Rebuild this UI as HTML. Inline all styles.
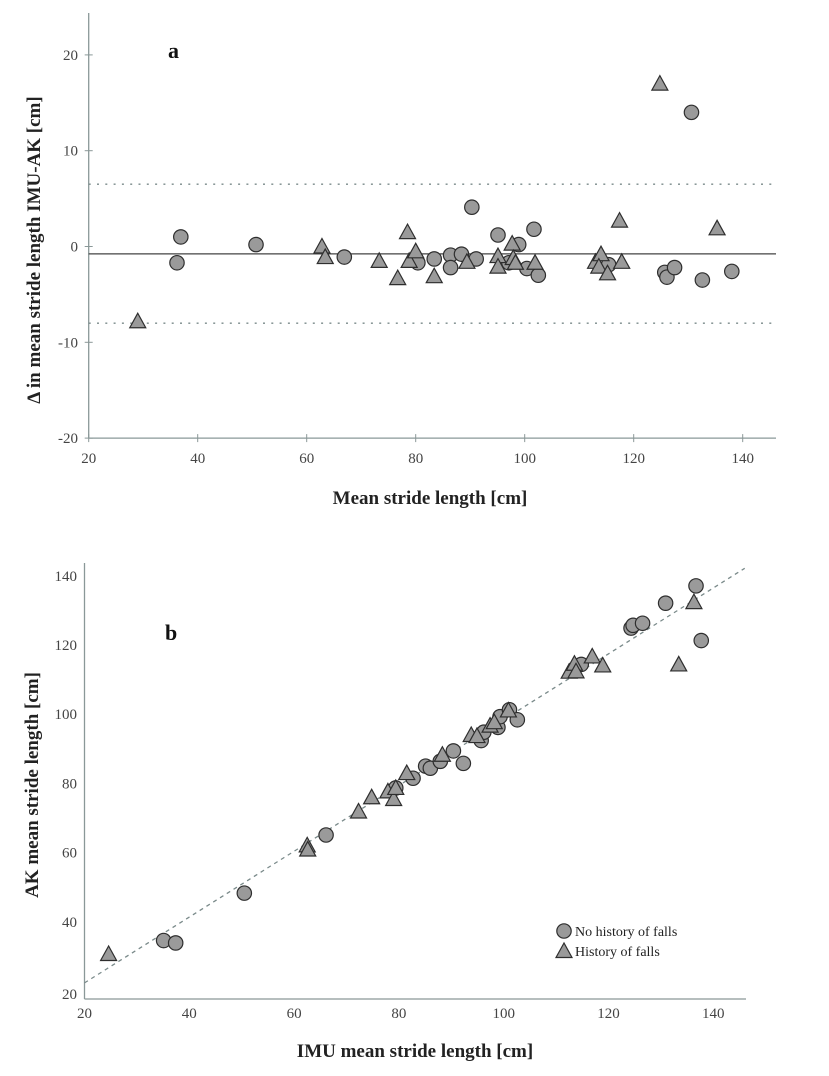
<!DOCTYPE html>
<html><head><meta charset="utf-8"><style>
html,body{margin:0;padding:0;background:#fff;}
svg{display:block;}
text{font-family:"Liberation Serif",serif;}
</style></head>
<body>
<svg id="chart" width="829" height="1076" viewBox="0 0 829 1076" xmlns="http://www.w3.org/2000/svg"></svg>
<script>
// ---- Panel a (Bland-Altman) data ----
const aXTicks = [20, 40, 60, 80, 100, 120, 140];
const aYTicks = [20, 10, 0, -10, -20];
const aCircleMean = [36.2,36.9,50.7,66.9,80.4,83.4,86.4,86.4,88.4,90.3,91.1,95.1,97.1,98.9,100.4,101.7,102.5,115.4,125.7,126.1,127.5,130.6,132.6,138.0];
const aCircleDiff = [-1.7,1.0,0.2,-1.1,-1.7,-1.3,-0.9,-2.2,-0.8,4.1,-1.3,1.2,-1.7,0.2,-2.3,1.8,-3.0,-1.9,-2.7,-3.2,-2.2,14.0,-3.5,-2.6];
const aTriMean = [29.0,62.8,63.4,73.3,76.7,78.5,78.8,80.0,83.4,89.4,95.1,95.1,97.7,97.9,98.3,101.9,113.0,114.0,113.6,115.2,117.4,117.8,124.8,135.3];
const aTriDiff = [-7.8,0.0,-1.1,-1.5,-3.3,1.5,-1.5,-0.5,-3.1,-1.6,-1.0,-2.1,0.3,-1.2,-1.7,-1.7,-1.6,-0.8,-2.1,-2.8,2.7,-1.6,17.0,1.9];
const aMeanDiff = -0.77;
const aUpperLoA = 6.5;
const aLowerLoA = -8.0;

// ---- Panel b (scatter) data ----
const bXTicks = [20, 40, 60, 80, 100, 120, 140];
const bYTicks = [20, 40, 60, 80, 100, 120, 140];
const bCircleIMU = [35.1,37.4,50.5,66.1,79.4,82.7,85.1,86.0,87.9,90.4,92.3,95.7,96.2,98.9,99.3,101.1,102.6,114.8,124.3,124.7,126.5,130.9,136.7,137.7];
const bCircleAK = [36.9,36.2,50.6,67.4,81.0,83.8,87.3,86.7,88.7,91.7,88.1,94.7,97.1,98.5,101.6,103.6,100.7,116.7,127.2,128.0,128.6,134.4,139.4,123.6];
const bTriIMU = [24.6,62.5,62.6,72.3,74.8,77.9,79.0,79.4,81.5,88.3,93.8,94.9,97.4,98.2,100.9,112.5,113.5,113.8,116.9,118.9,133.4,136.3];
const bTriAK = [33.0,64.4,63.2,74.2,78.3,80.0,77.8,81.0,85.3,90.6,96.3,96.0,99.0,100.0,103.4,114.6,116.9,114.7,119.0,116.4,116.7,134.7];
const bFitSlope = 0.951;
const bFitIntercept = 5.64;

const NS = "http://www.w3.org/2000/svg";
const svg = document.getElementById('chart');
function mk(tag, attrs, parent){
  const e = document.createElementNS(NS, tag);
  for (const k in attrs) e.setAttribute(k, attrs[k]);
  (parent||svg).appendChild(e);
  return e;
}
const ax = v => 88.7 + (v - 20) * 5.45;
const ay = v => 246.5 - v * 9.58;
const bx = v => 84.5 + (v - 20) * 5.24;
const by = v => 999 - (v - 20) * 3.46;

const AXC = "#8a9898";
function circle(cx, cy, g){
  const c = mk('circle', {cx:cx, cy:cy, r:7.2, fill:'#9a9a9a', stroke:'#2e2e2e', 'stroke-width':1.2}, g);
  
  
  return c;
}
function tri(cx, cy, g){
  const p = mk('polygon', {points:`${cx},${cy-8} ${cx-8},${cy+6.5} ${cx+8},${cy+6.5}`, fill:'#9a9a9a', stroke:'#2e2e2e', 'stroke-width':1.2}, g);
  
  
  return p;
}
function txt(x, y, s, attrs, g){
  const t = mk('text', Object.assign({x:x, y:y}, attrs), g);
  t.textContent = s;
  return t;
}

// ===== Panel a =====
const ga = mk('g', {});


const ayAxis = mk('line', {x1:88.7, y1:13, x2:88.7, y2:ay(-20), stroke:AXC, 'stroke-width':1.3}, ga);


const axAxis = mk('line', {x1:88.7, y1:ay(-20), x2:776, y2:ay(-20), stroke:AXC, 'stroke-width':1.3}, ga);


aXTicks.forEach(v => {
  mk('line', {x1:ax(v), y1:ay(-20)-4, x2:ax(v), y2:ay(-20)+4, stroke:AXC}, ga);
  const t = txt(ax(v), 463, String(v), {'text-anchor':'middle', 'font-size':15, fill:'#444'}, ga);
  
  
});
aYTicks.forEach(v => {
  mk('line', {x1:84.7, y1:ay(v), x2:92.7, y2:ay(v), stroke:AXC}, ga);
  const t = txt(78, ay(v)+5, String(v), {'text-anchor':'end', 'font-size':15, fill:'#444'}, ga);
  
  
});
[aUpperLoA, aLowerLoA].forEach(v => {
  const l = mk('line', {x1:88.7, y1:ay(v), x2:776, y2:ay(v), stroke:'#7a8a8a', 'stroke-width':1.4, 'stroke-dasharray':'2,6.3'}, ga);
  
  
});
const ml = mk('line', {x1:88.7, y1:ay(aMeanDiff), x2:776, y2:ay(aMeanDiff), stroke:'#444', 'stroke-width':1.3}, ga);


aCircleMean.forEach((m,i) => circle(ax(m), ay(aCircleDiff[i]), ga));
aTriMean.forEach((m,i) => tri(ax(m), ay(aTriDiff[i]), ga));
const la = txt(168, 58, 'a', {'font-size':22, 'font-weight':'bold', fill:'#111'}, ga);


const xta = txt(430, 504, 'Mean stride length [cm]', {'text-anchor':'middle', 'font-size':19, 'font-weight':'bold', fill:'#222'}, ga);


const yta = txt(0, 0, '\u0394 in mean stride length IMU-AK [cm]', {'text-anchor':'middle', 'font-size':19, 'font-weight':'bold', fill:'#222', transform:'translate(40,250) rotate(-90)'}, ga);



// ===== Panel b =====
const gb = mk('g', {});


const byAxis = mk('line', {x1:84.5, y1:563, x2:84.5, y2:999, stroke:AXC, 'stroke-width':1.3}, gb);


const bxAxis = mk('line', {x1:84.5, y1:999, x2:746, y2:999, stroke:AXC, 'stroke-width':1.3}, gb);


bXTicks.forEach(v => {
  const t = txt(bx(v), 1018, String(v), {'text-anchor':'middle', 'font-size':15, fill:'#444'}, gb);
  
  
});
bYTicks.forEach(v => {
  const t = txt(77, by(v)+(v===20?0:-3), String(v), {'text-anchor':'end', 'font-size':15, fill:'#444'}, gb);
  
  
});
const x0 = 20, x1 = 146;
const fit = mk('line', {x1:bx(x0), y1:by(bFitSlope*x0+bFitIntercept), x2:bx(x1), y2:by(bFitSlope*x1+bFitIntercept), stroke:'#7a8a8a', 'stroke-width':1.3, 'stroke-dasharray':'4,4'}, gb);


bCircleIMU.forEach((m,i) => circle(bx(m), by(bCircleAK[i]), gb));
bTriIMU.forEach((m,i) => tri(bx(m), by(bTriAK[i]), gb));
const lb = txt(165, 640, 'b', {'font-size':22, 'font-weight':'bold', fill:'#111'}, gb);


const xtb = txt(415, 1057, 'IMU mean stride length [cm]', {'text-anchor':'middle', 'font-size':19, 'font-weight':'bold', fill:'#222'}, gb);


const ytb = txt(0, 0, 'AK mean stride length [cm]', {'text-anchor':'middle', 'font-size':19, 'font-weight':'bold', fill:'#222', transform:'translate(38,785) rotate(-90)'}, gb);



// legend
const lg = mk('g', {}, gb);


const le1 = mk('g', {}, lg);


circle(564, 931, le1);
txt(575, 936, 'No history of falls', {'font-size':14, fill:'#222'}, le1);
const le2 = mk('g', {}, lg);


tri(564, 951, le2);
txt(575, 956, 'History of falls', {'font-size':14, fill:'#222'}, le2);
</script>
</body></html>
